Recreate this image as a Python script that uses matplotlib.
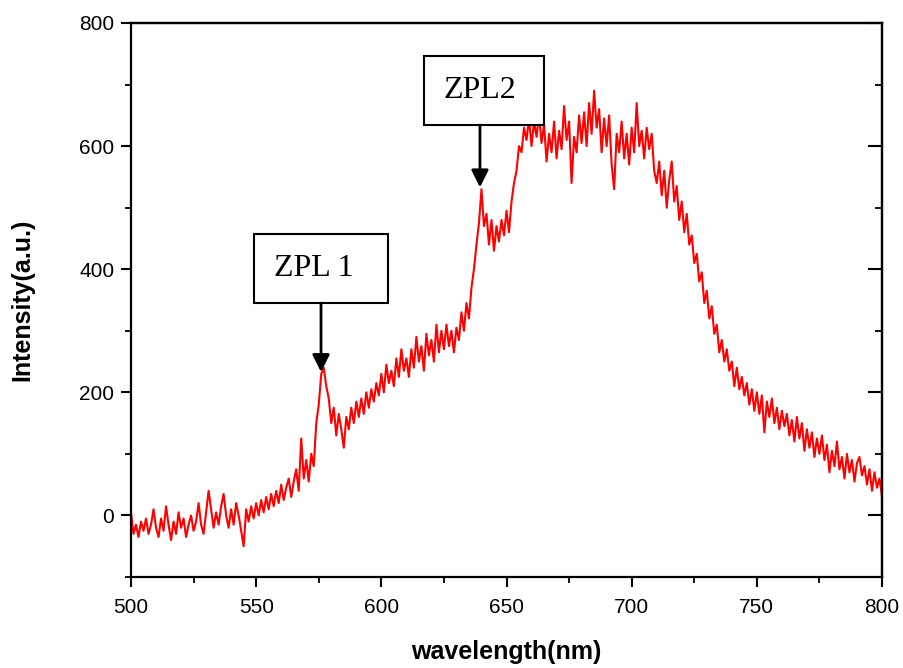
import matplotlib
matplotlib.use("Agg")
import matplotlib.pyplot as plt
import numpy as np
from matplotlib.patches import Rectangle
from matplotlib.ticker import MultipleLocator

# wavelength grid (1 nm steps, 500..800)
wavelength = np.arange(500, 801, 1)

# intensity values, one row per 10 nm
intensity = [
    5, -30, -15, -35, -10, -25, -5, -30, -15, 10,          # 500
    -20, -35, -5, -25, 15, -15, -40, -10, -30, 5,          # 510
    -20, -5, -35, -15, 0, -25, -10, 20, -15, -30,          # 520
    5, 40, 10, -20, 5, -15, 15, 35, 0, -20,                # 530
    10, -15, 20, 0, -25, -50, 10, -10, 15, -5,             # 540
    20, 0, 25, 5, 30, 10, 35, 15, 40, 20,                  # 550
    50, 25, 45, 60, 30, 55, 75, 40, 125, 60,               # 560
    90, 55, 100, 80, 150, 180, 230, 240, 210, 190,         # 570
    150, 175, 130, 165, 140, 110, 160, 140, 175, 150,      # 580
    185, 160, 190, 165, 200, 175, 205, 185, 215, 195,      # 590
    230, 200, 245, 215, 235, 210, 255, 225, 270, 235,      # 600
    255, 225, 270, 240, 290, 250, 275, 235, 295, 260,      # 610
    285, 250, 310, 265, 300, 270, 310, 275, 300, 265,      # 620
    305, 285, 330, 300, 345, 320, 370, 400, 440, 475,      # 630
    530, 470, 490, 440, 480, 430, 470, 445, 480, 455,      # 640
    495, 460, 510, 540, 560, 600, 590, 630, 610, 645,      # 650
    600, 640, 615, 650, 605, 635, 575, 620, 590, 640,      # 660
    580, 625, 595, 665, 610, 640, 540, 615, 590, 650,      # 670
    605, 655, 600, 670, 620, 690, 630, 660, 590, 645,      # 680
    600, 650, 570, 530, 620, 590, 640, 580, 620, 570,      # 690
    630, 590, 670, 600, 625, 580, 630, 595, 620, 560,      # 700
    540, 575, 520, 560, 500, 545, 575, 510, 535, 480,      # 710
    510, 460, 490, 440, 455, 410, 425, 380, 395, 345,      # 720
    365, 320, 340, 295, 310, 265, 285, 250, 270, 235,      # 730
    250, 210, 240, 205, 225, 195, 215, 180, 205, 170,      # 740
    200, 165, 195, 135, 185, 160, 190, 150, 175, 140,      # 750
    170, 145, 165, 130, 155, 120, 160, 125, 150, 105,      # 760
    140, 110, 135, 95, 125, 100, 130, 90, 115, 70,         # 770
    105, 80, 120, 75, 95, 60, 100, 70, 90, 55,             # 780
    85, 95, 65, 80, 50, 75, 40, 70, 45, 60,                # 790
    30,                                                    # 800
]

# labelled peaks: (label, arrow x, arrow tip y, box x0, box x1, box y0, box y1)
peak_labels = ["ZPL 1", "ZPL2"]
peak_x = [575.9, 639.4]
peak_tip = [233, 533]
box_x = [(549.1, 602.7), (617.0, 665.0)]
box_y = [(345.0, 457.1), (634.2, 746.7)]
text_x = [573.1, 639.4]

fig = plt.figure(figsize=(9.04, 6.68), dpi=100)
ax = fig.add_axes([131 / 904, 91 / 668, 751 / 904, 554 / 668])

ax.plot(wavelength, intensity, color="#ff0000", linewidth=1.5)

ax.set_xlim(500, 800)
ax.set_ylim(-100, 800)
ax.xaxis.set_major_locator(MultipleLocator(50))
ax.xaxis.set_minor_locator(MultipleLocator(25))
ax.yaxis.set_major_locator(MultipleLocator(200))
ax.yaxis.set_minor_locator(MultipleLocator(100))

for spine in ax.spines.values():
    spine.set_linewidth(1.6)

ax.tick_params(which="major", direction="out", length=7, width=1.5, pad=5)
ax.tick_params(which="minor", direction="out", length=4, width=1.3)
for lab in ax.get_xticklabels() + ax.get_yticklabels():
    lab.set_fontfamily("Liberation Sans")
    lab.set_fontsize(15)
ax.tick_params(axis="x", pad=8)

# inward ticks on the right side, plain top spine
right = ax.secondary_yaxis("right")
right.yaxis.set_major_locator(MultipleLocator(200))
right.yaxis.set_minor_locator(MultipleLocator(100))
right.tick_params(which="major", direction="in", length=10, width=1.5, labelright=False)
right.tick_params(which="minor", direction="in", length=5, width=1.3)
right.spines["right"].set_linewidth(1.6)

top = ax.secondary_xaxis("top")
top.tick_params(which="both", length=0, labeltop=False)
top.spines["top"].set_linewidth(1.6)

ax.set_xlabel("wavelength(nm)", family="Liberation Sans", fontsize=18,
              fontweight="bold", labelpad=17)
ax.set_ylabel("Intensity(a.u.)", family="Liberation Sans", fontsize=18,
              fontweight="bold", labelpad=32)

for label, px, tip, bx, by, tx in zip(peak_labels, peak_x, peak_tip, box_x, box_y, text_x):
    ax.add_patch(Rectangle((bx[0], by[0]), bx[1] - bx[0], by[1] - by[0],
                           facecolor="white", edgecolor="black", linewidth=1.5,
                           zorder=4))
    ax.text(tx, (by[0] + by[1]) / 2, label, family="Liberation Serif",
            fontsize=23, ha="center", va="center", zorder=5)
    ax.annotate("", xy=(px, tip), xytext=(px, by[0]),
                arrowprops=dict(arrowstyle="-|>", color="black", lw=2,
                                mutation_scale=26, shrinkA=0, shrinkB=0),
                zorder=5)

fig.savefig("out.png", dpi=100)
